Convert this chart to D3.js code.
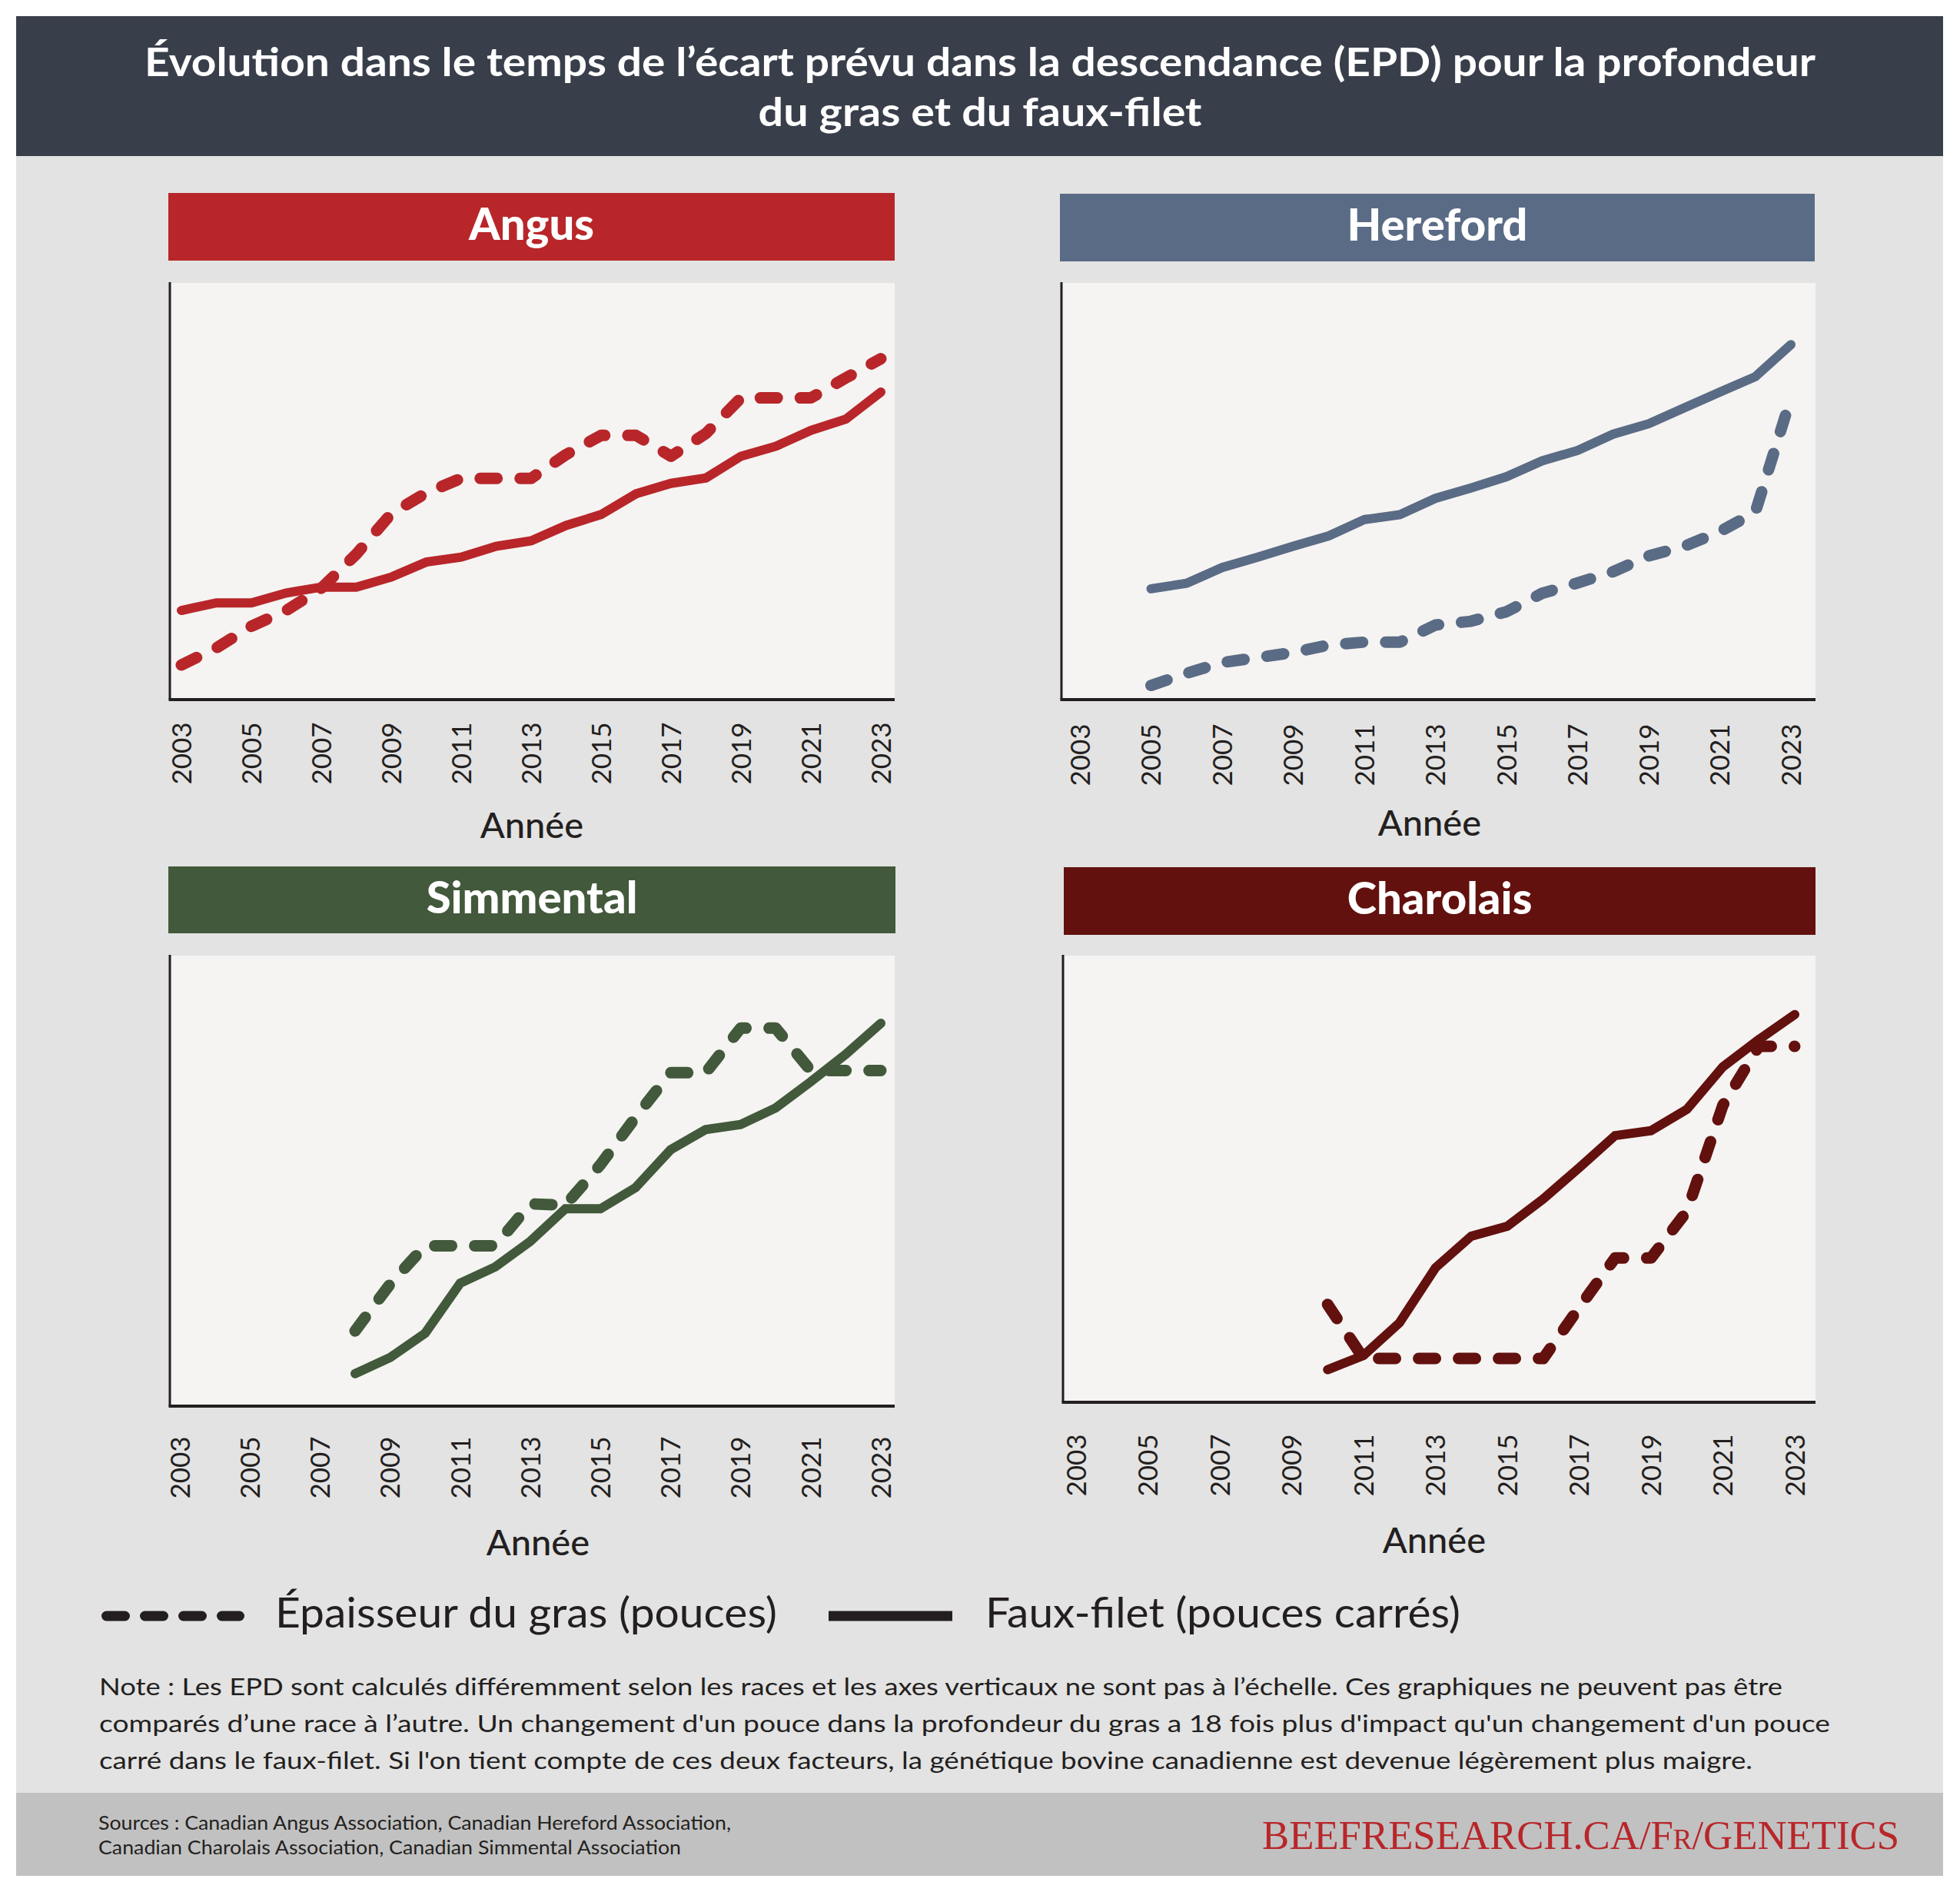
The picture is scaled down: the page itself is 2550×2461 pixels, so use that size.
<!DOCTYPE html>
<html lang="fr">
<head>
  <meta charset="UTF-8">
  <title>EPD gras et faux-filet</title>
  <style>
    body { margin: 0; background: #fff; }
    svg { display: block; }
    text { font-family: Lato, "Noto Sans", sans-serif; fill: #231f20; }
  </style>
</head>
<body>
  <svg id="chart" width="2550" height="2461"></svg>

  <script src="https://d3js.org/d3.v7.min.js"></script>
  <script>
    // values are read off the picture, 0 = bottom of plot, 100 = top (axes have no scale)
    const tickYears = [2003, 2005, 2007, 2009, 2011, 2013, 2015, 2017, 2019, 2021, 2023];

    const angusYears = [2003, 2004, 2005, 2006, 2007, 2008, 2009, 2010, 2011, 2012, 2013, 2014, 2015, 2016, 2017, 2018, 2019, 2020, 2021, 2022, 2023];
    const angusFat = [8.3, 12.4, 17.6, 21.4, 26.7, 34.9, 44.6, 49.6, 53.1, 53.1, 53.1, 58.8, 63.4, 63.4, 58.4, 63.9, 72.4, 72.4, 72.4, 77.2, 81.8];
    const angusRibeye = [21.4, 23.2, 23.2, 25.6, 27.0, 27.0, 29.4, 33.0, 34.2, 36.8, 38.1, 41.8, 44.4, 49.4, 51.9, 53.2, 58.4, 60.8, 64.6, 67.3, 73.8];

    const herefordYears = [2005, 2006, 2007, 2008, 2009, 2010, 2011, 2012, 2013, 2014, 2015, 2016, 2017, 2018, 2019, 2020, 2021, 2022, 2023];
    const herefordFat = [3.4, 6.3, 8.9, 10.1, 11.3, 13.1, 13.8, 13.8, 17.9, 18.8, 21.1, 25.5, 28.0, 30.7, 34.5, 36.8, 40.3, 45.0, 72.4];
    const herefordRibeye = [26.6, 27.9, 31.7, 34.2, 36.8, 39.3, 43.2, 44.4, 48.3, 50.8, 53.5, 57.3, 59.8, 63.7, 66.2, 70.0, 73.8, 77.5, 85.2];

    const simmentalYears = [2008, 2009, 2010, 2011, 2012, 2013, 2014, 2015, 2016, 2017, 2018, 2019, 2020, 2021, 2022, 2023];
    const simmentalFat = [16.7, 27.1, 35.6, 35.6, 35.6, 44.9, 44.6, 53.6, 64.1, 74.0, 74.0, 83.9, 83.9, 74.5, 74.5, 74.5];
    const simmentalRibeye = [7.2, 10.8, 16.2, 27.3, 30.9, 36.6, 43.8, 43.8, 48.5, 56.9, 61.4, 62.5, 66.2, 72.0, 78.1, 85.0];

    const charolaisYears = [2010, 2011, 2012, 2013, 2014, 2015, 2016, 2017, 2018, 2019, 2020, 2021, 2022, 2023];
    const charolaisFat = [21.9, 9.8, 9.8, 9.8, 9.8, 9.8, 9.8, 21.2, 32.3, 32.3, 42.8, 66.5, 79.7, 79.7];
    const charolaisRibeye = [7.3, 10.5, 17.8, 30.1, 37.2, 39.4, 45.5, 52.5, 59.7, 60.8, 65.6, 75.1, 81.2, 86.8];

    const titleLines = [
      'Évolution dans le temps de l’écart prévu dans la descendance (EPD) pour la profondeur',
      'du gras et du faux-filet'
    ];
    const legendLabels = ['Épaisseur du gras (pouces)', 'Faux-filet (pouces carrés)'];
    const noteLines = [
      'Note : Les EPD sont calculés différemment selon les races et les axes verticaux ne sont pas à l’échelle. Ces graphiques ne peuvent pas être',
      'comparés d’une race à l’autre. Un changement d\'un pouce dans la profondeur du gras a 18 fois plus d\'impact qu\'un changement d\'un pouce',
      'carré dans le faux-filet. Si l\'on tient compte de ces deux facteurs, la génétique bovine canadienne est devenue légèrement plus maigre.'
    ];
    const sourceLines = [
      'Sources : Canadian Angus Association, Canadian Hereford Association,',
      'Canadian Charolais Association, Canadian Simmental Association'
    ];

    const zip = (years, vals) => years.map((yr, i) => ({ year: yr, v: vals[i] }));

    // panel layout (pixels)
    const panels = [
      { name: 'Angus', color: '#b8262a', fat: zip(angusYears, angusFat), rib: zip(angusYears, angusRibeye),
        head: [219, 251, 1164, 339], plot: [221, 368, 1164, 910], xr: [236, 1146], tickY: 980, labelX: 692, labelY: 1090 },
      { name: 'Hereford', color: '#5a6b85', fat: zip(herefordYears, herefordFat), rib: zip(herefordYears, herefordRibeye),
        head: [1379, 252, 2361, 340], plot: [1381, 368, 2362, 910], xr: [1405, 2330], tickY: 982, labelX: 1860, labelY: 1087 },
      { name: 'Simmental', color: '#42593b', fat: zip(simmentalYears, simmentalFat), rib: zip(simmentalYears, simmentalRibeye),
        head: [219, 1127, 1165, 1214], plot: [221, 1243, 1164, 1829], xr: [234, 1146], tickY: 1909, labelX: 700, labelY: 2023 },
      { name: 'Charolais', color: '#62110e', fat: zip(charolaisYears, charolaisFat), rib: zip(charolaisYears, charolaisRibeye),
        head: [1384, 1128, 2362, 1216], plot: [1383, 1243, 2362, 1824], xr: [1400, 2335], tickY: 1906, labelX: 1866, labelY: 2020 }
    ];

    const svg = d3.select('#chart');

    // backgrounds
    svg.append('rect').attr('x', 21).attr('y', 203).attr('width', 2507).attr('height', 2129).attr('fill', '#e3e3e3');
    svg.append('rect').attr('x', 21).attr('y', 21).attr('width', 2507).attr('height', 182).attr('fill', '#393f4a');
    svg.append('rect').attr('x', 21).attr('y', 2332).attr('width', 2507).attr('height', 108).attr('fill', '#c1c1c1');

    // title
    svg.selectAll('text.title')
      .data(titleLines)
      .enter().append('text')
      .attr('class', 'title')
      .attr('x', 1275)
      .attr('y', (d, i) => 99 + i * 65)
      .attr('text-anchor', 'middle')
      .attr('textLength', (d, i) => i === 0 ? 2174 : 577)
      .attr('lengthAdjust', 'spacingAndGlyphs')
      .style('font-size', '52px')
      .style('font-weight', 700)
      .style('fill', '#fff')
      .text(d => d);

    panels.forEach(p => {
      const g = svg.append('g');
      const [hx0, hy0, hx1, hy1] = p.head;
      const [px0, py0, px1, py1] = p.plot;

      g.append('rect')
        .attr('x', hx0).attr('y', hy0)
        .attr('width', hx1 - hx0).attr('height', hy1 - hy0)
        .attr('fill', p.color);

      g.append('text')
        .attr('x', (hx0 + hx1) / 2)
        .attr('y', hy0 + 61)
        .attr('text-anchor', 'middle')
        .style('font-size', '58px')
        .style('font-weight', 900)
        .style('fill', '#fff')
        .text(p.name);

      g.append('rect')
        .attr('x', px0).attr('y', py0)
        .attr('width', px1 - px0).attr('height', py1 - py0)
        .attr('fill', '#f5f4f2');

      const x = d3.scaleLinear().domain([2003, 2023]).range(p.xr);
      const y = d3.scaleLinear().domain([0, 100]).range([py1, py0]);

      // axis lines
      g.append('line')
        .attr('x1', px0).attr('x2', px0).attr('y1', py0 - 1).attr('y2', py1)
        .attr('stroke', '#231f20').attr('stroke-width', 3);
      g.append('line')
        .attr('x1', px0 - 1.5).attr('x2', px1).attr('y1', py1).attr('y2', py1)
        .attr('stroke', '#231f20').attr('stroke-width', 4);

      const axis = d3.axisBottom(x)
        .tickValues(tickYears)
        .tickFormat(d3.format('d'))
        .tickSize(0);

      const ax = g.append('g')
        .attr('transform', `translate(0,${p.tickY})`)
        .call(axis);
      ax.select('.domain').remove();
      ax.selectAll('text')
        .attr('x', 0)
        .attr('y', 0)
        .attr('dy', '0.35em')
        .attr('transform', 'rotate(-90)')
        .attr('text-anchor', 'middle')
        .attr('fill', '#231f20')
        .style('font-family', 'Lato, "Noto Sans", sans-serif')
        .style('font-size', '35px');

      g.append('text')
        .attr('x', p.labelX)
        .attr('y', p.labelY)
        .attr('text-anchor', 'middle')
        .style('font-size', '47px')
        .style('font-weight', 500)
        .text('Année');

      const line = d3.line()
        .x(d => x(d.year))
        .y(d => y(d.v));

      // faux-filet (solid)
      g.append('path')
        .datum(p.rib)
        .attr('d', line)
        .attr('fill', 'none')
        .attr('stroke', p.color)
        .attr('stroke-width', 12)
        .attr('stroke-linejoin', 'miter')
        .attr('stroke-linecap', 'round');

      // épaisseur du gras (dashed)
      g.append('path')
        .datum(p.fat)
        .attr('d', line)
        .attr('fill', 'none')
        .attr('stroke', p.color)
        .attr('stroke-width', 15)
        .attr('stroke-dasharray', '22 30')
        .attr('stroke-linejoin', 'round')
        .attr('stroke-linecap', 'round');
    });

    // legend
    const legend = svg.append('g');
    legend.append('line')
      .attr('x1', 138.5).attr('x2', 311.5).attr('y1', 2102).attr('y2', 2102)
      .attr('stroke', '#231f20').attr('stroke-width', 13)
      .attr('stroke-dasharray', '24 26').attr('stroke-linecap', 'round');
    legend.append('line')
      .attr('x1', 1078).attr('x2', 1239).attr('y1', 2102).attr('y2', 2102)
      .attr('stroke', '#231f20').attr('stroke-width', 13);
    legend.selectAll('text')
      .data(legendLabels)
      .enter().append('text')
      .attr('x', (d, i) => i === 0 ? 358 : 1282)
      .attr('y', 2117)
      .attr('textLength', (d, i) => i === 0 ? 653 : 618)
      .attr('lengthAdjust', 'spacingAndGlyphs')
      .style('font-size', '55px')
      .text(d => d);

    // note
    const noteWidths = [2190, 2252, 2151];
    svg.selectAll('text.note')
      .data(noteLines)
      .enter().append('text')
      .attr('class', 'note')
      .attr('x', 129)
      .attr('y', (d, i) => 2205 + i * 48)
      .attr('textLength', (d, i) => noteWidths[i])
      .attr('lengthAdjust', 'spacingAndGlyphs')
      .style('font-size', '31px')
      .text(d => d);

    // footer
    const sourceWidths = [823, 758];
    svg.selectAll('text.source')
      .data(sourceLines)
      .enter().append('text')
      .attr('class', 'source')
      .attr('x', 128)
      .attr('y', (d, i) => 2380 + i * 32)
      .attr('textLength', (d, i) => sourceWidths[i])
      .attr('lengthAdjust', 'spacingAndGlyphs')
      .style('font-size', '25px')
      .text(d => d);

    svg.append('text')
      .attr('x', 1642)
      .attr('y', 2405)
      .attr('textLength', 829)
      .attr('lengthAdjust', 'spacingAndGlyphs')
      .style('font-family', '"Liberation Serif", "DejaVu Serif", serif')
      .style('font-size', '53px')
      .style('font-variant', 'small-caps')
      .style('fill', '#b8262a')
      .text('BEEFRESEARCH.CA/Fr/GENETICS');
  </script>
</body>
</html>
